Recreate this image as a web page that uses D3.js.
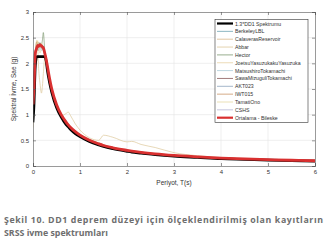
<!DOCTYPE html>
<html>
<head>
<meta charset="utf-8">
<script src="https://cdn.jsdelivr.net/npm/d3@7"></script>
<style>
  body { margin: 0; background: #fff; }
  svg { display: block; }
</style>
</head>
<body>
<div id="chart-area"></div>
<script>
// periods (s)
let periods = [0, 0.02, 0.05, 0.08, 0.1, 0.12, 0.15, 0.18, 0.2, 0.22, 0.25, 0.28, 0.3, 0.35, 0.4, 0.5, 0.6, 0.7, 0.75, 0.8, 0.9, 1.0, 1.2, 1.4, 1.5, 1.7, 2.0, 2.1, 2.3, 2.6, 3.0, 3.5, 4.0, 4.5, 5.0, 5.5, 6.0];

let design = [0.85, 1.15, 1.95, 2.13, 2.13, 2.13, 2.13, 2.13, 2.13, 2.13, 2.13, 2.04, 1.90, 1.63, 1.43, 1.14, 0.95, 0.81, 0.76, 0.71, 0.63, 0.57, 0.475, 0.41, 0.38, 0.335, 0.285, 0.27, 0.25, 0.22, 0.19, 0.165, 0.14, 0.127, 0.114, 0.104, 0.095];
let berkeley = [1.1, 1.45, 2.2, 2.35, 2.3, 2.25, 2.4, 2.3, 2.28, 2.25, 2.15, 2.05, 1.95, 1.7, 1.48, 1.18, 0.98, 0.85, 0.79, 0.74, 0.66, 0.6, 0.5, 0.43, 0.4, 0.35, 0.3, 0.285, 0.26, 0.23, 0.2, 0.175, 0.15, 0.135, 0.122, 0.11, 0.1];
let calaveras = [1.0, 1.35, 2.1, 2.4, 2.42, 2.3, 2.35, 2.38, 2.3, 2.28, 2.22, 2.1, 2.0, 1.74, 1.52, 1.22, 1.02, 0.88, 0.82, 0.77, 0.68, 0.62, 0.52, 0.45, 0.41, 0.36, 0.31, 0.295, 0.27, 0.24, 0.21, 0.18, 0.158, 0.14, 0.125, 0.113, 0.103];
let abbar = [0.9, 1.2, 2.0, 2.4, 2.3, 1.9, 1.6, 1.42, 1.55, 1.8, 2.1, 2.0, 1.85, 1.6, 1.4, 1.15, 0.98, 1.02, 1.05, 0.98, 0.82, 0.7, 0.55, 0.5, 0.6, 0.56, 0.47, 0.48, 0.42, 0.36, 0.26, 0.2, 0.165, 0.142, 0.126, 0.113, 0.102];
let hector = [1.15, 1.5, 2.25, 2.3, 2.35, 2.4, 2.3, 2.35, 2.45, 2.6, 2.25, 2.1, 1.98, 1.72, 1.5, 1.2, 1.0, 0.86, 0.8, 0.75, 0.67, 0.6, 0.5, 0.43, 0.4, 0.355, 0.305, 0.29, 0.265, 0.235, 0.205, 0.178, 0.155, 0.138, 0.124, 0.112, 0.102];
let joetsu = [0.75, 1.3, 2.1, 2.45, 2.4, 2.3, 2.2, 2.3, 2.35, 2.3, 2.18, 2.06, 1.96, 1.7, 1.49, 1.19, 0.99, 0.86, 0.8, 0.75, 0.67, 0.6, 0.5, 0.44, 0.41, 0.36, 0.31, 0.29, 0.27, 0.24, 0.21, 0.18, 0.157, 0.14, 0.125, 0.113, 0.103];
let matsushiro = [1.05, 1.4, 2.15, 2.28, 2.32, 2.36, 2.3, 2.25, 2.3, 2.32, 2.2, 2.08, 1.97, 1.71, 1.5, 1.2, 1.0, 0.86, 0.8, 0.75, 0.67, 0.6, 0.5, 0.43, 0.4, 0.355, 0.305, 0.29, 0.265, 0.235, 0.205, 0.178, 0.155, 0.138, 0.124, 0.112, 0.102];
let sawa = [1.2, 1.55, 2.2, 2.25, 2.3, 2.35, 2.4, 2.32, 2.28, 2.3, 2.2, 2.06, 1.95, 1.7, 1.48, 1.19, 0.99, 0.85, 0.79, 0.74, 0.66, 0.59, 0.49, 0.42, 0.39, 0.35, 0.3, 0.285, 0.26, 0.23, 0.2, 0.175, 0.152, 0.136, 0.122, 0.11, 0.1];
let akt023 = [1.1, 1.5, 2.25, 2.32, 2.38, 2.3, 2.35, 2.36, 2.33, 2.3, 2.22, 2.1, 1.99, 1.73, 1.51, 1.21, 1.01, 0.87, 0.81, 0.76, 0.68, 0.61, 0.51, 0.44, 0.4, 0.356, 0.306, 0.29, 0.266, 0.236, 0.206, 0.179, 0.156, 0.139, 0.125, 0.113, 0.103];
let iwt015 = [1.0, 1.45, 2.2, 2.42, 2.38, 2.4, 2.32, 2.3, 2.35, 2.28, 2.18, 2.07, 1.97, 1.71, 1.5, 1.2, 1.0, 0.87, 0.81, 0.76, 0.68, 0.61, 0.51, 0.44, 0.41, 0.36, 0.31, 0.295, 0.27, 0.24, 0.21, 0.18, 0.157, 0.14, 0.125, 0.113, 0.103];
let tamati = [0.95, 1.35, 2.1, 2.3, 2.44, 2.35, 2.3, 2.4, 2.32, 2.3, 2.2, 2.08, 1.98, 1.72, 1.5, 1.2, 1.0, 0.86, 0.8, 0.75, 0.67, 0.6, 0.5, 0.43, 0.4, 0.355, 0.305, 0.29, 0.265, 0.235, 0.205, 0.178, 0.155, 0.138, 0.124, 0.112, 0.102];
let cshs = [1.1, 1.45, 2.2, 2.3, 2.3, 2.38, 2.33, 2.3, 2.32, 2.34, 2.22, 2.09, 1.98, 1.72, 1.5, 1.2, 1.0, 0.86, 0.8, 0.75, 0.67, 0.6, 0.5, 0.43, 0.4, 0.355, 0.305, 0.29, 0.265, 0.235, 0.205, 0.178, 0.155, 0.138, 0.124, 0.112, 0.102];
let mean = [1.2, 1.5, 2.2, 2.3, 2.35, 2.33, 2.36, 2.34, 2.32, 2.3, 2.2, 2.08, 1.98, 1.72, 1.5, 1.2, 1.0, 0.86, 0.8, 0.75, 0.67, 0.6, 0.5, 0.43, 0.4, 0.355, 0.305, 0.29, 0.265, 0.235, 0.205, 0.178, 0.155, 0.138, 0.124, 0.112, 0.102];

let seriesNames = ["1.3*DD1 Spektrumu", "BerkeleyLBL", "CalaverasReservoir", "Abbar", "Hector", "JoetsuYasuzukakuYasuzuka", "MatsushiroTokamachi", "SawaMizuguliTokamachi", "AKT023", "IWT015", "TamatiOno", "CSHS", "Ortalama - Bileske"];
let seriesValues = [design, berkeley, calaveras, abbar, hector, joetsu, matsushiro, sawa, akt023, iwt015, tamati, cshs, mean];
let seriesColors = ["#000000", "#6fa3b3", "#d9b98c", "#dcc79a", "#7f9a72", "#e8d2a4", "#a9c9d6", "#8a5a5a", "#8ea4bc", "#c99668", "#e6d9a3", "#b5b5d3", "#d93030"];
let seriesWidths = [2.6, 0.7, 0.7, 0.7, 0.7, 0.7, 0.7, 0.7, 0.7, 0.7, 0.7, 0.7, 2.8];

let xTicks = [0, 1, 2, 3, 4, 5, 6];
let yTicks = [0, 0.5, 1, 1.5, 2, 2.5, 3];

let width = 333, height = 244;
let margin = { left: 33, right: 18, top: 12, bottom: 78 };
let w = width - margin.left - margin.right;
let h = height - margin.top - margin.bottom;

let svg = d3.select("#chart-area")
    .append("svg")
    .attr("width", width)
    .attr("height", height);

let g = svg.append("g")
    .attr("transform", "translate(" + margin.left + "," + margin.top + ")");

let x = d3.scaleLinear().domain([0, 6]).range([0, w]);
let y = d3.scaleLinear().domain([0, 3]).range([h, 0]);

// grid
g.append("g").selectAll("line").data(xTicks.slice(1, -1)).enter().append("line")
    .attr("x1", d => x(d)).attr("x2", d => x(d))
    .attr("y1", 0).attr("y2", h)
    .attr("stroke", "#e4e4e4").attr("stroke-width", 0.6);
g.append("g").selectAll("line").data(yTicks.slice(1, -1)).enter().append("line")
    .attr("y1", d => y(d)).attr("y2", d => y(d))
    .attr("x1", 0).attr("x2", w)
    .attr("stroke", "#e4e4e4").attr("stroke-width", 0.6);

// lines
let line = d3.line()
    .x((d, i) => x(periods[i]))
    .y(d => y(d))
    .curve(d3.curveMonotoneX);

g.append("defs").append("clipPath").attr("id", "clip")
    .append("rect").attr("width", w).attr("height", h);

let lines = g.append("g").attr("clip-path", "url(#clip)");
// draw records first, then design, then mean on top
let order = [1, 2, 3, 4, 5, 6, 7, 8, 9, 10, 11, 0, 12];
order.forEach(i => {
    lines.append("path")
        .attr("d", line(seriesValues[i]))
        .attr("fill", "none")
        .attr("stroke", seriesColors[i])
        .attr("stroke-width", seriesWidths[i])
        .attr("stroke-linejoin", "round");
});

// axes
let xAxis = d3.axisBottom(x).tickValues(xTicks).tickSize(-3).tickPadding(4).tickFormat(d3.format("d"));
let yAxis = d3.axisLeft(y).tickValues(yTicks).tickSize(-3).tickPadding(4).tickFormat(d => d);

let xg = g.append("g").attr("transform", "translate(0," + h + ")").call(xAxis);
let yg = g.append("g").call(yAxis);
g.append("g").call(d3.axisTop(x).tickValues(xTicks).tickSize(-3).tickFormat(""));
g.append("g").attr("transform", "translate(" + w + ",0)").call(d3.axisRight(y).tickValues(yTicks).tickSize(-3).tickFormat(""));

g.selectAll(".domain").attr("stroke", "#555").attr("stroke-width", 0.6);
g.selectAll(".tick line").attr("stroke", "#555").attr("stroke-width", 0.6);
g.selectAll(".tick text")
    .attr("font-family", "Liberation Sans, Arial, sans-serif")
    .attr("font-size", 6)
    .attr("fill", "#333");

// axis labels
g.append("text")
    .attr("x", w / 2)
    .attr("y", h + 19)
    .attr("text-anchor", "middle")
    .attr("font-family", "Liberation Sans, Arial, sans-serif")
    .attr("font-size", 6.5)
    .attr("fill", "#333")
    .text("Periyot, T(s)");

g.append("text")
    .attr("transform", "rotate(-90)")
    .attr("x", -h / 2)
    .attr("y", -17)
    .attr("text-anchor", "middle")
    .attr("font-family", "Liberation Sans, Arial, sans-serif")
    .attr("font-size", 6.5)
    .attr("fill", "#333")
    .text("Spektral İvme, Sae (g)");

// legend
let lx = 215 - margin.left, ly = 19.5 - margin.top, lw = 93, lh = 103;
let legend = g.append("g");
legend.append("rect")
    .attr("x", lx).attr("y", ly).attr("width", lw).attr("height", lh)
    .attr("fill", "#fff").attr("stroke", "#333").attr("stroke-width", 0.6);
seriesNames.forEach((name, i) => {
    let yy = ly + 4 + i * 7.85;
    legend.append("line")
        .attr("x1", lx + 2).attr("x2", lx + 18)
        .attr("y1", yy).attr("y2", yy)
        .attr("stroke", seriesColors[i])
        .attr("stroke-width", seriesWidths[i] > 1 ? 2.2 : 0.8);
    legend.append("text")
        .attr("x", lx + 20).attr("y", yy + 2)
        .attr("font-family", "Liberation Sans, Arial, sans-serif")
        .attr("font-size", 5.2)
        .attr("fill", "#333")
        .text(name);
});

// caption
svg.append("text")
    .attr("x", 4).attr("y", 223)
    .attr("textLength", 319)
    .attr("lengthAdjust", "spacing")
    .attr("font-family", "Open Sans, sans-serif")
    .attr("font-weight", "bold")
    .attr("font-size", 8.8)
    .attr("fill", "#6e6e6e")
    .text("Şekil 10. DD1 deprem düzeyi için ölçeklendirilmiş olan kayıtların");
svg.append("text")
    .attr("x", 4).attr("y", 236)
    .attr("font-family", "Open Sans, sans-serif")
    .attr("font-weight", "bold")
    .attr("font-size", 8.8)
    .attr("fill", "#6e6e6e")
    .text("SRSS ivme spektrumları");
</script>
</body>
</html>
